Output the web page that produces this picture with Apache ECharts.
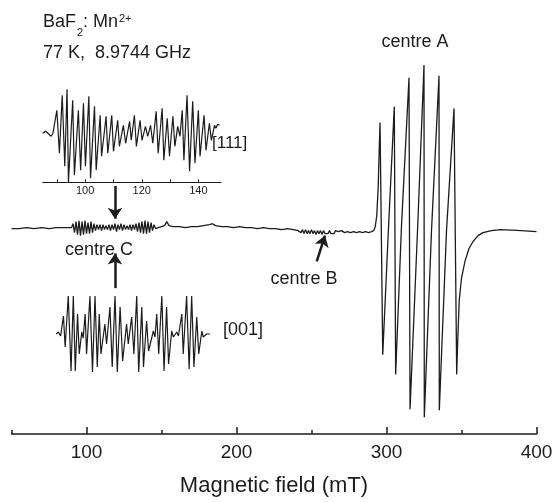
<!DOCTYPE html>
<html>
<head>
<meta charset="utf-8">
<title>BaF2:Mn2+ EPR spectrum</title>
<script src="https://cdn.jsdelivr.net/npm/echarts@6/dist/echarts.min.js"></script>
<style>
html, body { margin: 0; padding: 0; background: #fff; }
#chart { width: 558px; height: 502px; }
</style>
</head>
<body>
<div id="chart"></div>
<script>
//main spectrum [field mT, signal]
var mainTrace = [
    [50, 2], [55, 2], [60, 3], [65, 2], [70, 3], [75, 2], [80, 3], [85, 3], [88, 3], [90, 3],
    //centre C
    [91, 7], [92, -2], [93, 9], [94, -4], [95, 10], [96, -5], [97, 9], [98, -4], [99, 10], [100, -3],
    [101, 8], [102, -3], [103, 9], [104, -2], [105, 7], [106, 0], [107, 6], [108, 1], [109, 6], [110, 0],
    [111, 6], [112, 1], [113, 5], [114, 1], [115, 6], [116, 0], [117, 6], [118, 1], [119, 7], [120, -1],
    [121, 6], [122, 1], [123, 7], [124, 0], [125, 6], [126, 1], [127, 5], [128, 1], [129, 6], [130, 0],
    [131, 6], [132, 1], [133, 7], [134, -1], [135, 8], [136, -2], [137, 9], [138, -3], [139, 10], [140, -3],
    [141, 9], [142, -2], [143, 8], [144, 0], [145, 6], [146, 2], [147, 4],
    [150, 4], [152, 5], [153.5, 9], [155, 5], [158, 4], [162, 4], [166, 3], [170, 4], [174, 4], [178, 5],
    [182, 6], [184, 7], [186, 5], [190, 4], [194, 4], [198, 3], [202, 4], [206, 3], [210, 3], [214, 2],
    [218, 3], [222, 2], [226, 2], [230, 1], [234, 2], [238, 1], [241, 0],
    //centre B
    [242, 1], [243, -2], [244, 1], [245, -3], [246, 1], [247, -3], [248, 0], [249, -3], [250, 1], [251, -3],
    [252, 0], [253, -4], [254, 0], [255, -3], [256, 0], [257, -4], [258, 0], [259, -3], [260, -1], [261, -3],
    [262, 0], [263, -3], [264, -1], [265, -3], [266, 0], [267, -2], [268, -1], [269, -3], [270, 0], [272, -2],
    [274, -1], [276, -2], [278, -1], [280, -2], [282, -1], [284, -2], [286, -1], [288, -2], [290, -1], [291.5, 0],
    //centre A sextet
    [292.5, 4], [293.5, 15], [294.5, 45], [295.2, 85], [295.7, 109], [297.5, -125],
    [301, -8], [305.2, 125], [306.1, -145],
    [310, 5], [315.0, 154], [315.7, -180],
    [321, 12], [325.0, 167], [325.2, -188],
    [330, 0], [335.0, 156], [335.2, -181],
    [340, 0], [345.0, 123], [346.8, -145],
    [347.5, -110], [348.5, -70], [350, -48], [352.3, -31], [355, -18], [357.7, -11], [361, -5], [364.3, -2],
    [370, 0], [376, 1], [390, 0], [400, -1]
];

//inset [111]
var trace111 = [
    [85.0, 0], [86.0, 2], [86.8, 0], [88.0, -3], [88.6, 0],
    [90.0, 23], [90.9, -20], [91.9, 38], [92.8, -33], [93.6, 44], [94.1, -49],
    [95.6, 33], [96.2, -42], [97.6, 23], [98.4, -37], [99.4, 30], [100.1, -33],
    [101.3, 37], [101.9, -45], [103.3, 27], [103.9, -37], [105.3, 18], [105.8, -23],
    [107.4, 17], [108.0, -20], [109.4, 18], [110.0, -18], [111.5, 13], [112.1, -13],
    [113.5, 8], [114.3, -10], [115.7, 12], [116.3, -7], [117.4, 18], [118.1, -13],
    [119.4, 13], [120.1, -7], [121.3, 7], [122.1, -3], [123.1, 8], [123.9, -10],
    [125.1, 22], [125.8, -20], [127.2, 25], [127.8, -27], [129.0, 15], [129.8, -23],
    [131.0, 17], [131.7, -13], [132.7, 7], [133.5, -3], [134.3, 23], [134.9, -27],
    [136.0, 38], [136.9, -38], [138.0, 32], [138.8, -30], [140.0, 23], [140.6, -23],
    [142.0, 18], [142.7, -17], [143.9, 10], [144.6, -7],
    [145.7, 8], [146.2, 5], [146.8, 9], [147.5, 8]
];

//inset [001]
var trace001 = [
    [88.4, 0], [89.2, 2], [90.0, -2], [91.0, 18], [91.6, -13],
    [92.7, 38], [93.7, -37], [94.5, 38], [95.2, -37], [96.0, 20],
    [96.6, -20], [97.5, 2], [98.0, -4], [98.7, 20], [99.2, -20],
    [100.4, 38], [101.3, -38], [102.2, 38], [103.0, -33], [103.7, 20],
    [104.3, -20], [105.7, 10], [106.3, -10], [107.5, 27], [108.3, -33],
    [109.3, 38], [110.1, -38], [111.1, 27], [112.0, -27], [113.4, 10],
    [114.0, -10], [115.2, 17], [116.0, -20], [117.0, 38], [117.7, -38],
    [118.8, 27], [119.4, -33], [120.5, 13], [121.2, -17], [122.9, 3],
    [123.5, -3], [124.1, 20], [124.8, -20], [125.9, 38], [126.7, -37],
    [127.6, 27], [128.3, -30], [129.4, 3], [130.0, -3], [131.2, 2],
    [131.8, -2], [133.0, 20], [133.5, -20], [134.7, 38], [135.6, -35],
    [136.5, 38], [137.3, -33], [138.3, 17], [139.0, -20], [140.1, 3],
    [140.6, -3], [141.8, 0], [143.0, 0]
];

var mainTicks = [100, 200, 300, 400];
var mainMinorTicks = [50, 150, 250, 350];
var insetTicks = [90, 100, 110, 120, 130, 140];
var insetLabels = [100, 120, 140];

//arrows: [from, to] in (field, signal)
var arrowMarks = [
    [[119, 45], [119, 12]],
    [[119, -58], [119, -23]],
    [[253.5, -31], [259, -5]]
];

var FONT = '"Liberation Sans", Arial, Helvetica, sans-serif';
var INK = '#1c1c1c';

function label(text, x, y, size, align) {
    return {
        type: 'text',
        x: x,
        y: y,
        silent: true,
        style: {
            text: text,
            font: size + 'px ' + FONT,
            fill: INK,
            textAlign: align || 'left',
            textVerticalAlign: 'middle'
        }
    };
}

function drawSpectrum(dom) {
    var myChart = echarts.init(dom);

    var option = {
        animation: false,
        backgroundColor: '#fff',
        grid: [
            { left: 11.5, right: 21.5, top: 57, bottom: 65 },
            { left: 42.7, top: 81.3, width: 178.3, height: 101 },
            { left: 55, top: 294, width: 155, height: 80 }
        ],
        xAxis: [
            {
                gridIndex: 0, type: 'value', min: 50, max: 400, position: 'bottom',
                name: 'Magnetic field (mT)', nameLocation: 'middle', nameGap: 41,
                nameTextStyle: { fontFamily: FONT, fontSize: 22, color: INK },
                axisLine: { onZero: false, lineStyle: { color: INK, width: 1.5 } },
                axisTick: { customValues: mainTicks, inside: true, length: 7, lineStyle: { color: INK, width: 1.5 } },
                axisLabel: { customValues: mainTicks, fontFamily: FONT, fontSize: 19, color: INK, margin: 9 },
                splitLine: { show: false }
            },
            {
                gridIndex: 0, type: 'value', min: 50, max: 400, position: 'bottom',
                axisLine: { show: false, onZero: false },
                axisTick: { customValues: mainMinorTicks, inside: true, length: 4, lineStyle: { color: INK, width: 1.5 } },
                axisLabel: { show: false },
                splitLine: { show: false }
            },
            {
                gridIndex: 1, type: 'value', min: 85, max: 148, position: 'bottom',
                axisLine: { onZero: false, lineStyle: { color: INK, width: 1 } },
                axisTick: { customValues: insetTicks, inside: true, length: 3, lineStyle: { color: INK } },
                axisLabel: { customValues: insetLabels, fontFamily: FONT, fontSize: 11, color: INK, margin: 3 },
                splitLine: { show: false }
            },
            {
                gridIndex: 2, type: 'value', min: 88, max: 143, show: false
            }
        ],
        yAxis: [
            { gridIndex: 0, type: 'value', min: -205, max: 175, show: false },
            { gridIndex: 1, type: 'value', min: -49, max: 52, show: false },
            { gridIndex: 2, type: 'value', min: -40, max: 40, show: false }
        ],
        series: [
            {
                type: 'line', xAxisIndex: 0, yAxisIndex: 0,
                data: mainTrace, showSymbol: false, symbol: 'none',
                lineStyle: { color: INK, width: 1.3 },
                markLine: {
                    silent: true, animation: false,
                    symbol: ['none', 'arrow'], symbolSize: 11,
                    label: { show: false },
                    lineStyle: { color: INK, width: 2.5, type: 'solid' },
                    data: arrowMarks.map(function (a) {
                        return [{ coord: a[0] }, { coord: a[1] }];
                    })
                }
            },
            {
                type: 'line', xAxisIndex: 2, yAxisIndex: 1,
                data: trace111, showSymbol: false, symbol: 'none',
                lineStyle: { color: INK, width: 1.2 }
            },
            {
                type: 'line', xAxisIndex: 3, yAxisIndex: 2,
                data: trace001, showSymbol: false, symbol: 'none',
                lineStyle: { color: INK, width: 1.2 }
            }
        ],
        graphic: [
            label('BaF', 43, 22, 18),
            label('2', 77, 33, 11),
            label(': Mn', 83, 22, 18),
            label('2+', 119, 19, 11),
            label('77 K,  8.9744 GHz', 43, 53, 18),
            label('centre A', 415, 42, 18, 'center'),
            label('centre C', 99, 250, 18, 'center'),
            label('centre B', 304, 279, 18, 'center'),
            label('[111]', 212, 143, 17),
            label('[001]', 223, 330, 18)
        ]
    };

    myChart.setOption(option);
}

drawSpectrum(document.getElementById('chart'));
</script>
</body>
</html>
